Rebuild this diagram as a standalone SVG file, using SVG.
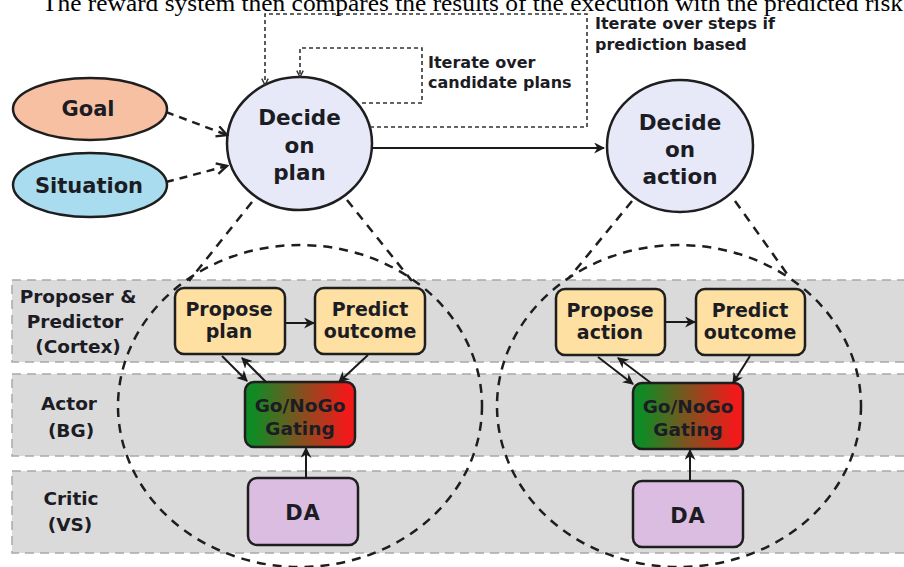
<svg xmlns="http://www.w3.org/2000/svg" width="904" height="567" viewBox="0 0 904 567">
  <style>
    .lbl { font-family: "DejaVu Sans", "Liberation Sans", sans-serif; font-weight: bold; fill: #1c1c24; }
    .band { fill: #dadada; stroke: #a9a9a9; stroke-width: 1.5; stroke-dasharray: 9 6; }
    .box { stroke: #1e1e1e; stroke-width: 2.5; }
    .scope { fill: none; stroke: #1e1e1e; stroke-width: 2.5; stroke-dasharray: 9 7; }
    .solid { fill: none; stroke: #1a1a1a; stroke-width: 2; }
    .dash { fill: none; stroke: #1e1e1e; stroke-width: 2.5; stroke-dasharray: 8 6; }
    .loop { fill: none; stroke: #333; stroke-width: 1.6; stroke-dasharray: 4 3; }
  </style>
  <defs>
    <marker id="head" viewBox="0 0 10 10" refX="9" refY="5" markerWidth="11" markerHeight="11" markerUnits="userSpaceOnUse" orient="auto">
      <path d="M0,0 L10,5 L0,10 L3,5 z" fill="#1a1a1a"/>
    </marker>
    <marker id="vee" viewBox="0 0 12 12" refX="10.5" refY="6" markerWidth="13" markerHeight="13" markerUnits="userSpaceOnUse" orient="auto">
      <path d="M1,1 L10.5,6 L1,11" fill="none" stroke="#1e1e1e" stroke-width="2.2"/>
    </marker>
    <marker id="small" viewBox="0 0 10 10" refX="9" refY="5" markerWidth="8" markerHeight="8" markerUnits="userSpaceOnUse" orient="auto">
      <path d="M1,1 L9,5 L1,9" fill="none" stroke="#333" stroke-width="1.8"/>
    </marker>
    <linearGradient id="gate" x1="0" y1="0" x2="1" y2="0">
      <stop offset="0.08" stop-color="#108a24"/>
      <stop offset="0.92" stop-color="#f01a1a"/>
    </linearGradient>
  </defs>

  <rect width="904" height="567" fill="#ffffff"/>

  <!-- caption line running across the top edge -->
  <text x="42" y="11" font-family="'Liberation Serif', serif" font-size="23" fill="#000" textLength="861" lengthAdjust="spacingAndGlyphs">The reward system then compares the results of the execution with the predicted risk</text>

  <!-- horizontal lanes -->
  <g id="lanes">
    <g id="lane-cortex">
      <rect class="band" x="12" y="280" width="900" height="82"/>
      <text class="lbl" font-size="18.5" text-anchor="middle"><tspan x="78" y="303">Proposer &amp;</tspan><tspan x="75" y="328">Predictor</tspan><tspan x="78" y="353">(Cortex)</tspan></text>
    </g>
    <g id="lane-bg">
      <rect class="band" x="12" y="374" width="900" height="82"/>
      <text class="lbl" font-size="18.5" text-anchor="middle"><tspan x="69" y="410">Actor</tspan><tspan x="71" y="437">(BG)</tspan></text>
    </g>
    <g id="lane-vs">
      <rect class="band" x="12" y="471" width="900" height="82"/>
      <text class="lbl" font-size="18.5" text-anchor="middle"><tspan x="71" y="505">Critic</tspan><tspan x="70" y="531">(VS)</tspan></text>
    </g>
  </g>

  <!-- dashed scopes under each decision -->
  <g id="scope-plan">
    <ellipse class="scope" cx="300" cy="406" rx="182" ry="161"/>
  </g>
  <g id="scope-action">
    <ellipse class="scope" cx="679" cy="406" rx="182" ry="161"/>
  </g>

  <!-- inputs -->
  <g id="goal">
    <ellipse class="box" cx="90" cy="109" rx="77" ry="31" fill="#f8c0a2"/>
    <text class="lbl" x="88" y="116" font-size="21" text-anchor="middle">Goal</text>
  </g>
  <g id="situation">
    <ellipse class="box" cx="90" cy="185" rx="77" ry="32" fill="#aadcef"/>
    <text class="lbl" x="89" y="193" font-size="21" text-anchor="middle">Situation</text>
  </g>

  <!-- decisions -->
  <g id="decide-plan">
    <ellipse class="box" cx="299.5" cy="143.5" rx="72.5" ry="66.5" fill="#e7e9f8"/>
    <text class="lbl" font-size="21.5" text-anchor="middle"><tspan x="299.5" y="125">Decide</tspan><tspan x="299.5" y="153">on</tspan><tspan x="299.5" y="180">plan</tspan></text>
  </g>
  <g id="decide-action">
    <ellipse class="box" cx="680" cy="146" rx="73" ry="66" fill="#e7e9f8"/>
    <text class="lbl" font-size="21.5" text-anchor="middle"><tspan x="680" y="130">Decide</tspan><tspan x="680" y="157">on</tspan><tspan x="680" y="184">action</tspan></text>
  </g>

  <!-- plan level modules -->
  <g id="propose-plan">
    <rect class="box" x="175" y="288" width="110" height="66" rx="9" fill="#fde0a2"/>
    <text class="lbl" font-size="19" text-anchor="middle"><tspan x="229" y="316">Propose</tspan><tspan x="229" y="338">plan</tspan></text>
  </g>
  <g id="predict-plan">
    <rect class="box" x="315" y="288" width="110" height="66" rx="9" fill="#fde0a2"/>
    <text class="lbl" font-size="19" text-anchor="middle"><tspan x="370" y="316">Predict</tspan><tspan x="370" y="338">outcome</tspan></text>
  </g>
  <g id="gating-plan">
    <rect class="box" x="245" y="382" width="110" height="65" rx="9" fill="url(#gate)"/>
    <text class="lbl" font-size="18.5" text-anchor="middle"><tspan x="300" y="412">Go/NoGo</tspan><tspan x="300" y="435">Gating</tspan></text>
  </g>
  <g id="da-plan">
    <rect class="box" x="248" y="478" width="110" height="67" rx="9" fill="#dbbde1"/>
    <text class="lbl" x="303" y="520" font-size="21" text-anchor="middle" letter-spacing="1">DA</text>
  </g>

  <!-- action level modules -->
  <g id="propose-action">
    <rect class="box" x="556" y="289" width="109" height="66" rx="9" fill="#fde0a2"/>
    <text class="lbl" font-size="19" text-anchor="middle"><tspan x="610" y="317">Propose</tspan><tspan x="610" y="339">action</tspan></text>
  </g>
  <g id="predict-action">
    <rect class="box" x="696" y="289" width="109" height="66" rx="9" fill="#fde0a2"/>
    <text class="lbl" font-size="19" text-anchor="middle"><tspan x="750" y="317">Predict</tspan><tspan x="750" y="339">outcome</tspan></text>
  </g>
  <g id="gating-action">
    <rect class="box" x="633" y="383" width="110" height="66" rx="9" fill="url(#gate)"/>
    <text class="lbl" font-size="18.5" text-anchor="middle"><tspan x="688" y="413">Go/NoGo</tspan><tspan x="688" y="436">Gating</tspan></text>
  </g>
  <g id="da-action">
    <rect class="box" x="633" y="481" width="110" height="66" rx="9" fill="#dbbde1"/>
    <text class="lbl" x="688" y="523" font-size="21" text-anchor="middle" letter-spacing="1">DA</text>
  </g>

  <!-- loop annotations -->
  <g id="loop-labels">
    <text class="lbl" font-size="16"><tspan x="428" y="68">Iterate over</tspan><tspan x="428" y="88">candidate plans</tspan></text>
    <text class="lbl" font-size="16"><tspan x="595" y="29">Iterate over steps if</tspan><tspan x="595" y="50">prediction based</tspan></text>
  </g>

  <g id="connectors">
    <!-- inputs into the plan decision -->
    <path class="dash" d="M166,112 L227,135" marker-end="url(#vee)"/>
    <path class="dash" d="M166,182 L227,166" marker-end="url(#vee)"/>
    <!-- plan to action -->
    <path class="solid" d="M372,148 H604" marker-end="url(#head)"/>
    <!-- iteration loops -->
    <path class="loop" d="M362,103 H422 V48 H300 V77" marker-end="url(#small)"/>
    <path class="loop" d="M370,127 H587 V14 H265 V85" marker-end="url(#small)"/>
    <!-- decision to scope tangents -->
    <path class="scope" d="M252,202 L189,281"/>
    <path class="scope" d="M347,200 L412,281"/>
    <path class="scope" d="M632,201 L569,278"/>
    <path class="scope" d="M735,201 L790,278"/>
    <!-- plan level links -->
    <path class="solid" d="M285,323 H314" marker-end="url(#head)"/>
    <path class="solid" d="M222,356 L247,381" marker-end="url(#head)"/>
    <path class="solid" d="M266,382 L242,358" marker-end="url(#head)"/>
    <path class="solid" d="M368,355 L339,382" marker-end="url(#head)"/>
    <path class="solid" d="M306,478 V448" marker-end="url(#head)"/>
    <!-- action level links -->
    <path class="solid" d="M665,322 H695" marker-end="url(#head)"/>
    <path class="solid" d="M598,357 L633,384" marker-end="url(#head)"/>
    <path class="solid" d="M651,383 L618,358" marker-end="url(#head)"/>
    <path class="solid" d="M750,356 L733,383" marker-end="url(#head)"/>
    <path class="solid" d="M690,481 V450" marker-end="url(#head)"/>
  </g>
</svg>
